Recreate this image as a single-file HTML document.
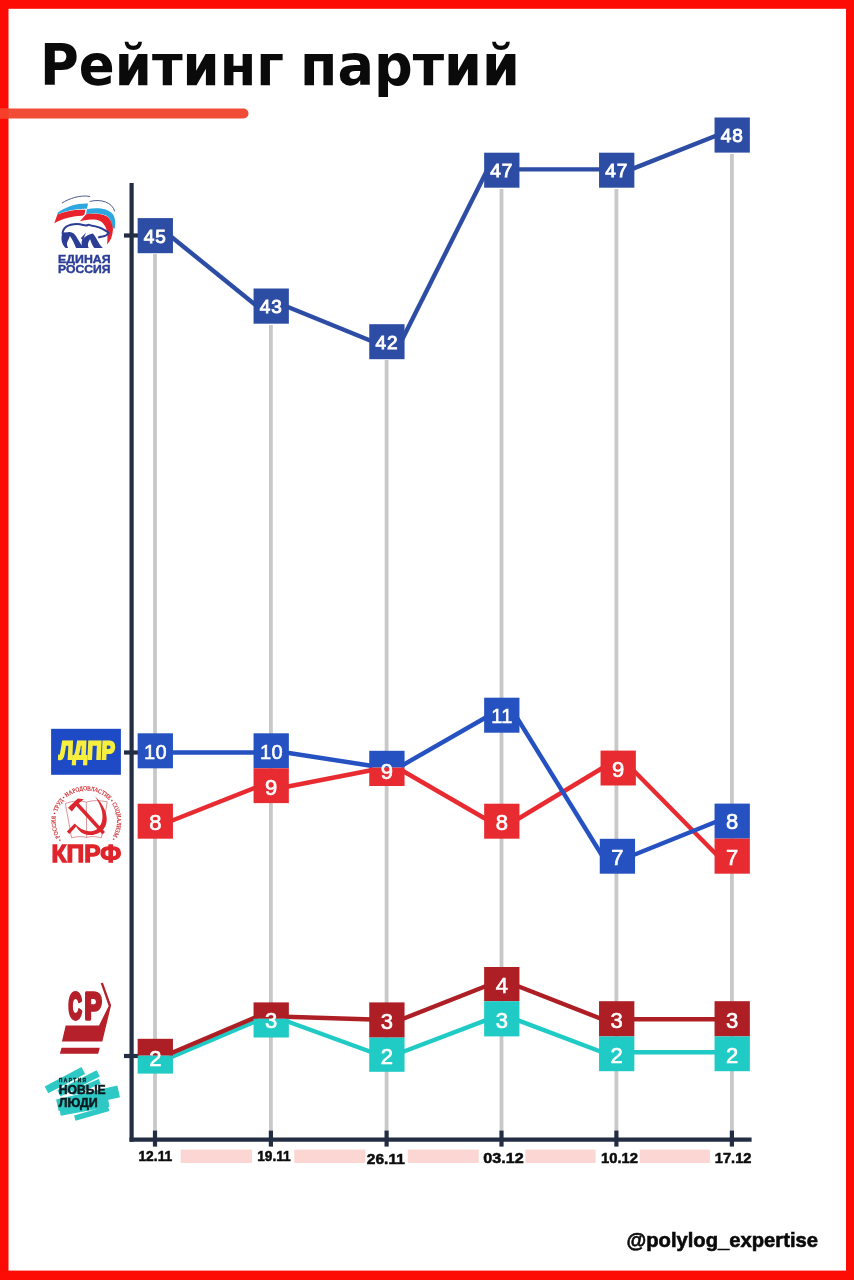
<!DOCTYPE html>
<html lang="ru">
<head>
<meta charset="utf-8">
<title>Рейтинг партий</title>
<style>
html,body{margin:0;padding:0;background:#fd0b05;}
body{width:854px;height:1280px;overflow:hidden;position:relative;}
svg{display:block;position:absolute;left:0;top:0;}
.num,.n1,.n2{font-family:"Liberation Sans","DejaVu Sans",sans-serif;font-weight:normal;fill:#fff;stroke:#fff;text-anchor:middle;}
.num{font-size:19px;stroke-width:0.9px;letter-spacing:0.9px;}
.n2{font-size:20px;stroke-width:0.6px;letter-spacing:0.5px;}
.n1{font-size:22px;stroke-width:0.65px;}
.date{font-family:"Liberation Sans","DejaVu Sans",sans-serif;font-weight:bold;font-size:15.4px;fill:#0d0d0d;stroke:#0d0d0d;stroke-width:0.55px;}
</style>
</head>
<body>
<svg width="854" height="1280" viewBox="0 0 854 1280">
<!-- frame -->
<rect x="0" y="0" width="854" height="1280" fill="#fd0b05"/>
<rect x="8.5" y="8.8" width="837.5" height="1261.8" fill="#ffffff"/>

<!-- title -->
<g id="title">
<text transform="translate(40,85) scale(0.92,1)" font-family="'DejaVu Sans','Liberation Sans',sans-serif" font-weight="bold" font-size="57.6" fill="#0a0a0a">Рейтинг</text>
<text transform="translate(300,85) scale(0.94,1)" font-family="'DejaVu Sans','Liberation Sans',sans-serif" font-weight="bold" font-size="57.6" fill="#0a0a0a">партий</text>
<path d="M0 113.5 H243.5" stroke="#f04c36" stroke-width="10" stroke-linecap="round" fill="none"/>
<rect x="0" y="108.5" width="8.5" height="10" fill="#f6402c"/>
</g>

<g id="grid" stroke="#c8c8c8" stroke-width="3.8" fill="none">
<path d="M155.0 254 V1131"/>
<path d="M270.9 325 V1131"/>
<path d="M386.6 360 V1131"/>
<path d="M501.5 189 V1131"/>
<path d="M616.4 189 V1131"/>
<path d="M731.9 154 V1131"/>
</g>
<g id="axes" stroke="#222d43" stroke-width="4.2" fill="none">
<path d="M131.6 183 V1141.7"/>
<path d="M129.5 1139.6 H751.6"/>
<path d="M124 235.5 H139"/>
<path d="M124 752.5 H139"/>
<path d="M124 1056 H139"/>
<path d="M155.0 1130.6 V1146.6"/>
<path d="M270.9 1130.6 V1146.6"/>
<path d="M386.6 1130.6 V1146.6"/>
<path d="M501.5 1130.6 V1146.6"/>
<path d="M616.4 1130.6 V1146.6"/>
<path d="M731.9 1130.6 V1146.6"/>
</g>
<g id="bars" fill="#fcd6d3">
<rect x="180.7" y="1149.6" width="71.2" height="13.4"/>
<rect x="294.2" y="1149.6" width="71.2" height="13.4"/>
<rect x="407.7" y="1149.6" width="71" height="13.4"/>
<rect x="525.4" y="1149.6" width="70.2" height="13.4"/>
<rect x="639.7" y="1149.6" width="70.2" height="13.4"/>
</g>
<g id="dates">
<text class="date" x="138.4" y="1161.4" textLength="33.9" lengthAdjust="spacingAndGlyphs">12.11</text>
<text class="date" x="257.2" y="1161.4" textLength="33.5" lengthAdjust="spacingAndGlyphs">19.11</text>
<text class="date" x="366.8" y="1163.9" textLength="38.0" lengthAdjust="spacingAndGlyphs">26.11</text>
<text class="date" x="483.2" y="1162.7" textLength="40.5" lengthAdjust="spacingAndGlyphs">03.12</text>
<text class="date" x="601.0" y="1162.7" textLength="37.0" lengthAdjust="spacingAndGlyphs">10.12</text>
<text class="date" x="714.8" y="1162.7" textLength="36.6" lengthAdjust="spacingAndGlyphs">17.12</text>
</g>
<g id="lines" fill="none" stroke-width="4.4">
<path d="M169.7 1057.7 L256.8 1020.8" stroke="#20cac5"/>
<path d="M285.5 1020.8 L372.6 1052.5" stroke="#20cac5"/>
<path d="M401.2 1052.5 L487.5 1019.6" stroke="#20cac5"/>
<path d="M516.2 1019.6 L602.4 1052.2" stroke="#20cac5"/>
<path d="M631.1 1052.2 L717.9 1052.2" stroke="#20cac5"/>
<path d="M169.7 1053.7 L256.8 1016.8" stroke="#ad1f24"/>
<path d="M285.5 1016.8 L372.6 1019.5" stroke="#ad1f24"/>
<path d="M401.2 1019.5 L487.5 985.5" stroke="#ad1f24"/>
<path d="M516.2 985.5 L602.4 1019.3" stroke="#ad1f24"/>
<path d="M631.1 1019.3 L717.9 1019.3" stroke="#ad1f24"/>
<path d="M169.7 821.5 L256.8 787.0" stroke="#e82b31"/>
<path d="M285.5 787.0 L372.6 770.0" stroke="#e82b31"/>
<path d="M401.2 770.0 L487.5 820.0" stroke="#e82b31"/>
<path d="M516.2 820.0 L602.4 768.0" stroke="#e82b31"/>
<path d="M631.1 768.0 L717.9 856.0" stroke="#e82b31"/>
<path d="M169.7 752.5 L256.8 752.5" stroke="#2551c1"/>
<path d="M285.5 752.5 L372.6 766.0" stroke="#2551c1"/>
<path d="M401.2 766.0 L487.5 716.5" stroke="#2551c1"/>
<path d="M516.2 716.5 L602.4 856.0" stroke="#2551c1"/>
<path d="M631.1 856.0 L717.9 821.0" stroke="#2551c1"/>
<path d="M169.7 235.5 L256.8 306.0" stroke="#2d4da5"/>
<path d="M285.5 306.0 L372.6 341.5" stroke="#2d4da5"/>
<path d="M401.2 341.5 L487.5 169.4" stroke="#2d4da5"/>
<path d="M516.2 169.4 L602.4 169.4" stroke="#2d4da5"/>
<path d="M631.1 169.4 L717.9 135.0" stroke="#2d4da5"/>
</g>
<g id="er">
<rect x="137.65" y="218.1" width="35.30" height="35.10" fill="#2d4da5"/>
<rect x="253.55" y="288.5" width="35.30" height="35.20" fill="#2d4da5"/>
<rect x="369.25" y="324.2" width="35.30" height="35.00" fill="#2d4da5"/>
<rect x="484.15" y="152.7" width="35.30" height="35.00" fill="#2d4da5"/>
<rect x="599.05" y="152.7" width="35.30" height="35.00" fill="#2d4da5"/>
<rect x="714.55" y="117.5" width="35.30" height="35.10" fill="#2d4da5"/>
</g>
<text class="num" x="155.3" y="242.6">45</text>
<text class="num" x="271.2" y="313.2">43</text>
<text class="num" x="386.9" y="348.8">42</text>
<text class="num" x="501.8" y="177.3">47</text>
<text class="num" x="616.7" y="177.3">47</text>
<text class="num" x="732.2" y="142.2">48</text>
<g id="ldpr">
<rect x="137.65" y="733.3" width="35.30" height="35.00" fill="#2551c1"/>
<rect x="253.55" y="733.3" width="35.30" height="35.00" fill="#2551c1"/>
<rect x="369.25" y="750.8" width="35.30" height="16.80" fill="#2551c1"/>
<rect x="484.15" y="697.7" width="35.30" height="35.00" fill="#2551c1"/>
<rect x="599.75" y="838.8" width="35.30" height="34.90" fill="#2551c1"/>
<rect x="714.55" y="803.6" width="35.30" height="35.00" fill="#2551c1"/>
</g>
<g id="kprf">
<rect x="137.65" y="803.7" width="35.30" height="35.00" fill="#e82b31"/>
<rect x="253.55" y="768.3" width="35.30" height="34.80" fill="#e82b31"/>
<rect x="369.25" y="767.6" width="35.30" height="18.40" fill="#e82b31"/>
<rect x="484.15" y="803.7" width="35.30" height="35.00" fill="#e82b31"/>
<rect x="600.55" y="750.6" width="35.30" height="34.90" fill="#e82b31"/>
<rect x="714.55" y="838.6" width="35.30" height="35.10" fill="#e82b31"/>
</g>
<text class="n2" x="155.6" y="758.8">10</text>
<text class="n2" x="271.5" y="758.8">10</text>
<text class="n2" x="502.1" y="723.2">11</text>
<text class="n1" x="386.9" y="778.6">9</text>
<text class="n1" x="617.4" y="864.6">7</text>
<text class="n1" x="732.2" y="829.4">8</text>
<text class="n1" x="155.3" y="829.5">8</text>
<text class="n1" x="271.2" y="794.6">9</text>
<text class="n1" x="501.8" y="829.5">8</text>
<text class="n1" x="618.2" y="776.8">9</text>
<text class="n1" x="732.2" y="864.6">7</text>
<g id="sr">
<rect x="137.65" y="1038.8" width="35.30" height="16.90" fill="#ad1f24"/>
<rect x="253.55" y="1002.4" width="35.30" height="16.40" fill="#ad1f24"/>
<rect x="369.25" y="1002.4" width="35.30" height="35.20" fill="#ad1f24"/>
<rect x="484.15" y="967" width="35.30" height="34.20" fill="#ad1f24"/>
<rect x="599.05" y="1001.2" width="35.30" height="35.20" fill="#ad1f24"/>
<rect x="714.55" y="1001.2" width="35.30" height="35.20" fill="#ad1f24"/>
</g>
<g id="nl">
<rect x="137.65" y="1055.7" width="35.30" height="17.90" fill="#20cac5"/>
<rect x="253.55" y="1018.8" width="35.30" height="18.70" fill="#20cac5"/>
<rect x="369.25" y="1037.6" width="35.30" height="34.20" fill="#20cac5"/>
<rect x="484.15" y="1001.2" width="35.30" height="35.20" fill="#20cac5"/>
<rect x="599.05" y="1036.4" width="35.30" height="34.80" fill="#20cac5"/>
<rect x="714.55" y="1036.4" width="35.30" height="34.80" fill="#20cac5"/>
</g>
<text class="n1" x="155.3" y="1065.8">2</text>
<text class="n1" x="271.2" y="1028">3</text>
<text class="n1" x="386.9" y="1028.8">3</text>
<text class="n1" x="386.9" y="1063.5">2</text>
<text class="n1" x="501.8" y="992.9">4</text>
<text class="n1" x="501.8" y="1027.6">3</text>
<text class="n1" x="616.7" y="1027.8">3</text>
<text class="n1" x="616.7" y="1062.9">2</text>
<text class="n1" x="732.2" y="1027.8">3</text>
<text class="n1" x="732.2" y="1062.9">2</text>
<!-- LOGOS -->
<g id="logo-er">
<g transform="translate(50,190) scale(0.08197)">
<!-- flag left -->
<path d="M145 160 C230 105 370 55 490 80" fill="none" stroke="#3b4a7c" stroke-width="11"/>
<path d="M95 275 C200 200 330 160 465 165 L450 230 C330 225 200 250 90 300 Z" fill="#2da7e0"/>
<path d="M90 300 C200 250 320 235 432 242 L420 300 L395 315 C280 315 160 350 52 405 Z" fill="#e8232c"/>
<!-- flag right -->
<path d="M485 140 C620 105 760 150 790 262" fill="none" stroke="#3b4a7c" stroke-width="11"/>
<path d="M450 235 C560 215 700 215 770 300 C800 350 800 420 790 470 L760 470 C760 420 740 350 690 315 C620 280 520 285 440 292 Z" fill="#2da7e0"/>
<path d="M440 296 C520 288 620 285 690 320 C740 352 765 420 768 480 C765 560 740 620 695 665 C705 600 705 520 682 462 C655 398 610 364 540 360 C470 360 420 368 365 380 Z" fill="#e8232c"/>
<!-- bear -->
<path d="M152 535 C160 450 230 418 330 416 C395 416 425 442 455 430 C468 415 480 425 500 432 C560 442 625 458 662 488 C690 502 715 515 714 527 C712 540 698 537 688 550 C668 570 620 562 588 582" fill="none" stroke="#2c3d96" stroke-width="24" stroke-linejoin="round"/>
<path d="M150 520 C130 600 140 660 190 708 L222 708 C200 670 205 640 218 618 C232 590 238 572 243 560 C272 600 300 660 318 708 L425 708 C385 690 345 600 305 545 C280 520 250 508 220 515 Z" fill="#2c3d96"/>
<path d="M395 605 C425 560 480 540 522 530 C560 560 585 650 645 708 L540 708 C520 680 500 640 490 600 C470 625 452 662 472 708 L398 708 C385 680 378 640 395 605 Z" fill="#2c3d96"/>
<path d="M440 520 L400 610 L375 590 Z" fill="#2c3d96"/>
</g>
<text x="58" y="262.8" font-family="'Liberation Sans',sans-serif" font-weight="bold" font-size="11.4" fill="#2c3d96" stroke="#2c3d96" stroke-width="0.4" textLength="52.6" lengthAdjust="spacingAndGlyphs">ЕДИНАЯ</text>
<text x="58" y="273" font-family="'Liberation Sans',sans-serif" font-weight="bold" font-size="11.4" fill="#2c3d96" stroke="#2c3d96" stroke-width="0.4" textLength="52.6" lengthAdjust="spacingAndGlyphs">РОССИЯ</text>
</g>

<g id="logo-ldpr">
<rect x="51.1" y="728.8" width="69.8" height="46" fill="#1f4ac6"/>
<text transform="translate(58.8,758.6) skewX(-2.5) scale(0.79,1)" font-family="'Liberation Sans',sans-serif" font-weight="bold" font-size="25.2" fill="#f7ef3e" stroke="#f7ef3e" stroke-width="2" vector-effect="non-scaling-stroke">ЛДПР</text>
</g>

<g id="logo-kprf">
<defs><path id="kcirc" d="M61.9 839.7 A30.8 30.8 0 1 1 111.5 838.8"/></defs>
<text font-family="'Liberation Serif',serif" font-size="6" fill="#cf2b31" stroke="#cf2b31" stroke-width="0.2" textLength="135.5" lengthAdjust="spacingAndGlyphs"><textPath href="#kcirc" textLength="135.5" lengthAdjust="spacingAndGlyphs">• РОССИЯ • ТРУД • НАРОДОВЛАСТИЕ • СОЦИАЛИЗМ •</textPath></text>
<g transform="translate(48,780) scale(0.08899)">
<path d="M195 265 C270 235 370 225 430 250 C490 225 590 230 665 245 L600 650 C540 635 480 630 435 645 C380 630 320 635 265 650 Z M430 250 L435 645" fill="none" stroke="#c4565a" stroke-width="7"/>
<path d="M225 312 L335 208 L402 215 L345 262 L640 585 L612 612 L318 292 L268 355 Z" fill="#dc252c"/>
<path d="M528 183 C625 275 685 400 652 500 C620 600 480 655 378 592 C350 572 330 548 316 522 L240 607 L212 580 L300 490 C360 560 450 600 540 558 C610 520 628 420 600 330 C585 280 560 232 528 183 Z" fill="#dc252c"/>
</g>
<text x="51.6" y="862" font-family="'Liberation Sans',sans-serif" font-weight="bold" font-size="24" fill="#e0242b" stroke="#e0242b" stroke-width="1.3" textLength="69.6" lengthAdjust="spacingAndGlyphs">КПРФ</text>
</g>

<g id="logo-sr">
<g transform="translate(52,975) scale(0.07963)" fill="#b5202a">
<path d="M612 105 L640 98 L742 380 L632 835 L125 835 L172 635 L590 635 L712 390 Z"/>
<path d="M120 915 L600 915 L580 990 L98 990 Z"/>
</g>
<text transform="translate(68.6,1019.3) scale(0.50,1)" font-family="'Liberation Sans',sans-serif" font-weight="bold" font-size="37" fill="#b5202a" stroke="#b5202a" stroke-width="3" vector-effect="non-scaling-stroke" stroke-linejoin="round">С</text>
<text transform="translate(84.6,1019.3) scale(0.70,1)" font-family="'Liberation Sans',sans-serif" font-weight="bold" font-size="37" fill="#b5202a" stroke="#b5202a" stroke-width="3" vector-effect="non-scaling-stroke" stroke-linejoin="round">Р</text>
</g>

<g id="logo-nl">
<g transform="translate(40,1060) scale(0.09953)" stroke="#2ec8c5" fill="none">
<path d="M65 300 L435 105" stroke-width="78"/>
<path d="M190 335 L585 135" stroke-width="70"/>
<path d="M330 330 L600 215" stroke-width="50"/>
<path d="M175 455 L790 315" stroke-width="120"/>
<path d="M200 515 L690 425" stroke-width="90"/>
<path d="M350 585 L690 485" stroke-width="55"/>
</g>
<text x="58.9" y="1081.5" font-family="'Liberation Sans',sans-serif" font-weight="bold" font-size="4.7" fill="#0b1a1f" stroke="#0b1a1f" stroke-width="0.3" textLength="27" lengthAdjust="spacing">ПАРТИЯ</text>
<text x="58.7" y="1094.3" font-family="'Liberation Sans',sans-serif" font-weight="bold" font-size="12.4" fill="#0b1a1f" stroke="#0b1a1f" stroke-width="0.5" textLength="47" lengthAdjust="spacingAndGlyphs">НОВЫЕ</text>
<text x="58.7" y="1106.8" font-family="'Liberation Sans',sans-serif" font-weight="bold" font-size="12" fill="#0b1a1f" stroke="#0b1a1f" stroke-width="0.5" textLength="39" lengthAdjust="spacingAndGlyphs">ЛЮДИ</text>
</g>

<!-- footer -->
<text x="626.5" y="1247.4" font-family="'Liberation Sans',sans-serif" font-weight="bold" font-size="20.4" fill="#0a0a0a" stroke="#0a0a0a" stroke-width="0.6" textLength="191.5" lengthAdjust="spacingAndGlyphs">@polylog_expertise</text>
</svg>
</body>
</html>
